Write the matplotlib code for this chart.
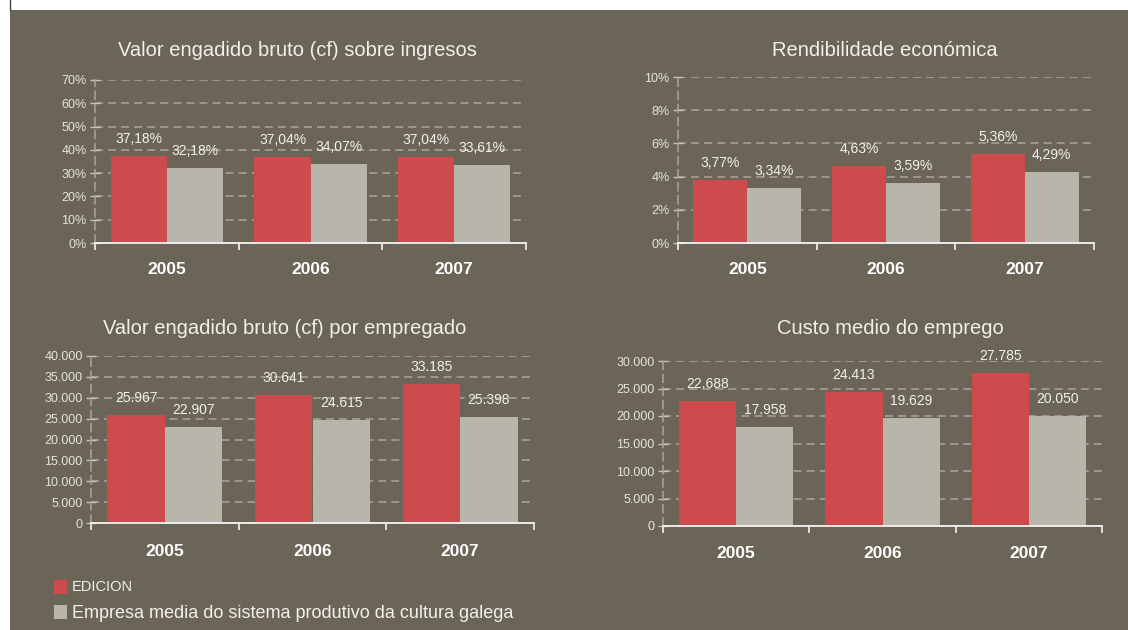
import matplotlib
matplotlib.use("Agg")
import matplotlib.pyplot as plt
from matplotlib.patches import Rectangle
from matplotlib.lines import Line2D

plt.rcParams['font.family'] = ['Liberation Sans', 'DejaVu Sans']
plt.rcParams['lines.scale_dashes'] = False

years = ["2005", "2006", "2007"]
series_names = ["EDICION", "Empresa media do sistema produtivo da cultura galega"]

titles = [
    "Valor engadido bruto (cf) sobre ingresos",
    "Rendibilidade económica",
    "Valor engadido bruto (cf) por empregado",
    "Custo medio do emprego",
]

vab_ingresos_edicion = [37.18, 37.04, 37.04]
vab_ingresos_media = [32.18, 34.07, 33.61]

rendibilidade_edicion = [3.77, 4.63, 5.36]
rendibilidade_media = [3.34, 3.59, 4.29]

vab_empregado_edicion = [25967, 30641, 33185]
vab_empregado_media = [22907, 24615, 25398]

custo_emprego_edicion = [22688, 24413, 27785]
custo_emprego_media = [17958, 19629, 20050]

yticks_1 = [0, 10, 20, 30, 40, 50, 60, 70]
yticks_2 = [0, 2, 4, 6, 8, 10]
yticks_3 = [0, 5000, 10000, 15000, 20000, 25000, 30000, 35000, 40000]
yticks_4 = [0, 5000, 10000, 15000, 20000, 25000, 30000]

BG = '#6b6558'
RED = '#cc4c4e'
GRAY = '#b8b5aa'
GRID = '#aaa598'
TXT = '#f2f0ea'
W, H = 1128, 630

fig = plt.figure(figsize=(W / 100, H / 100), dpi=100, facecolor='white')
fig.patches.append(Rectangle((10 / W, 0), 1 - 10 / W, 1 - 10 / H,
                             transform=fig.transFigure, facecolor=BG,
                             edgecolor='none', zorder=-10))
fig.lines.append(Line2D([10 / W, 10 / W], [1 - 10 / H, 1], transform=fig.transFigure,
                        color='#444444', lw=1))


def pct(v):
    return ("%.2f" % v).replace('.', ',') + '%'


def thousands(v):
    return "{:,}".format(int(v)).replace(',', '.')


def px_axes(left, right, top, bottom):
    return [left / W, 1 - bottom / H, (right - left) / W, (bottom - top) / H]


panels = [
    dict(rect=px_axes(95, 526, 80, 243), ed=vab_ingresos_edicion, me=vab_ingresos_media,
         ticks=yticks_1, tfmt=lambda t: "%d%%" % t, vfmt=pct, title=titles[0],
         tx=297, ty=56, yoff=27),
    dict(rect=px_axes(678, 1094, 77, 243), ed=rendibilidade_edicion, me=rendibilidade_media,
         ticks=yticks_2, tfmt=lambda t: "%d%%" % t, vfmt=pct, title=titles[1],
         tx=885, ty=56, yoff=27),
    dict(rect=px_axes(91, 534, 356, 523), ed=vab_empregado_edicion, me=vab_empregado_media,
         ticks=yticks_3, tfmt=thousands, vfmt=thousands, title=titles[2],
         tx=285, ty=334, yoff=28),
    dict(rect=px_axes(663, 1102, 361, 526), ed=custo_emprego_edicion, me=custo_emprego_media,
         ticks=yticks_4, tfmt=thousands, vfmt=thousands, title=titles[3],
         tx=890, ty=334, yoff=27),
]

bw = 0.39
for p in panels:
    ax = fig.add_axes(p['rect'])
    ax.set_facecolor('none')
    x = list(range(len(years)))
    ax.bar([i - bw / 2 for i in x], p['ed'], width=bw, color=RED, zorder=2)
    ax.bar([i + bw / 2 for i in x], p['me'], width=bw, color=GRAY, zorder=2)
    ax.set_xlim(-0.5, 2.5)
    ax.set_ylim(p['ticks'][0], p['ticks'][-1])
    ax.set_yticks(p['ticks'])
    ax.set_yticklabels([p['tfmt'](t) for t in p['ticks']])
    ax.set_xticks([-0.5, 0.5, 1.5, 2.5])
    ax.set_xticklabels([])
    ax.tick_params(axis='x', direction='out', length=5, width=1.2, color='#f4f4f4')
    ax.tick_params(axis='y', direction='inout', length=7, width=1.0, color='#c8c4ba',
                   labelsize=9, labelcolor='#e6e3dc', pad=2.5)
    ax.yaxis.grid(True, linestyle=(0, (5.8, 3.6)), color=GRID, lw=1.1, zorder=1)
    ax.set_axisbelow(True)
    for s in ['top', 'right']:
        ax.spines[s].set_visible(False)
    ax.spines['left'].set_linestyle((0, (5.8, 3.6)))
    ax.spines['left'].set_color(GRID)
    ax.spines['left'].set_linewidth(1.1)
    ax.spines['bottom'].set_color('#f4f4f4')
    ax.spines['bottom'].set_linewidth(1.3)
    ax.spines['bottom'].set_zorder(3)
    for i in x:
        ax.annotate(p['vfmt'](p['ed'][i]), xy=(i - bw / 2, p['ed'][i]), xytext=(0, 13),
                    textcoords='offset pixels', ha='center', va='baseline',
                    fontsize=10, color=TXT, annotation_clip=False)
        ax.annotate(p['vfmt'](p['me'][i]), xy=(i + bw / 2, p['me'][i]), xytext=(0, 13),
                    textcoords='offset pixels', ha='center', va='baseline',
                    fontsize=10, color=TXT, annotation_clip=False)
        ax.annotate(years[i], xy=(i, 0), xycoords=('data', 'axes fraction'),
                    xytext=(0, -p['yoff']), textcoords='offset pixels',
                    ha='center', va='center', fontsize=12.5, fontweight='bold',
                    color='white', annotation_clip=False)
    fig.text(p['tx'] / W, 1 - p['ty'] / H, p['title'], ha='center', va='baseline',
             fontsize=14.5, color=TXT)

# legend
fig.patches.append(Rectangle((54 / W, 1 - 594 / H), 13 / W, 14 / H, transform=fig.transFigure,
                             facecolor=RED, edgecolor='none'))
fig.patches.append(Rectangle((54 / W, 1 - 619 / H), 13 / W, 14 / H, transform=fig.transFigure,
                             facecolor=GRAY, edgecolor='none'))
fig.text(72 / W, 1 - 587 / H, series_names[0], ha='left', va='center', fontsize=10.5, color=TXT)
fig.text(72 / W, 1 - 614 / H, series_names[1], ha='left', va='center', fontsize=13, color=TXT)

fig.savefig('out.png', dpi=100, facecolor='white')
